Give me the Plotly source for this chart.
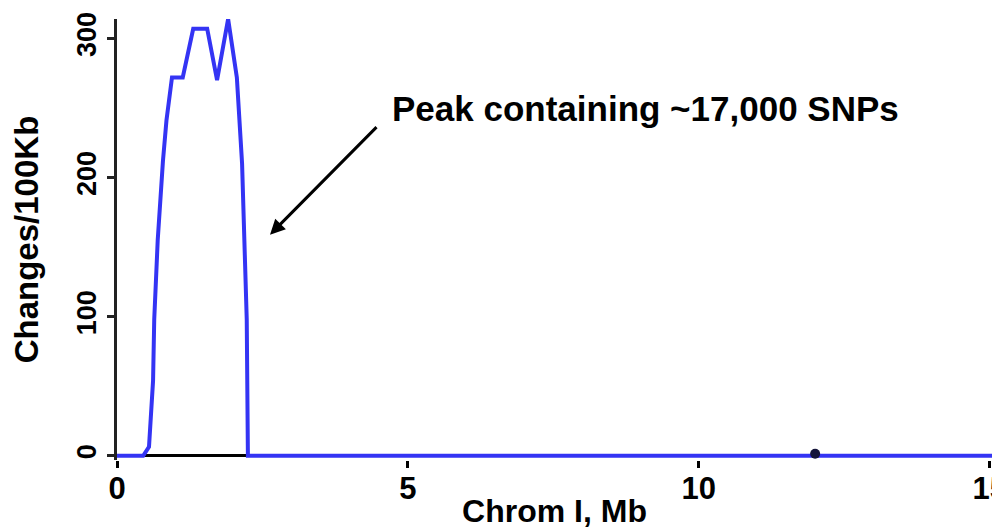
import plotly.graph_objects as go

# Chromosome position (Mb) and SNP change density (changes per 100 Kb)
pos_mb = [0.0, 0.45, 0.55, 0.62, 0.64, 0.70, 0.79, 0.85, 0.945, 1.13, 1.31, 1.55,
          1.72, 1.91, 2.06, 2.11, 2.15, 2.23, 2.25, 15.04]
changes = [0, 0, 6.5, 54, 98, 155, 212, 241, 272, 272, 307, 307,
           270, 314, 272, 243, 210, 98, 0, 0]

# small isolated blip
blip_x = [12.0]
blip_y = [1.5]

x_ticks = [0, 5, 10, 15]
x_tick_text = ["0", "5", "10", "15"]
y_ticks = [0, 100, 200, 300]
y_tick_text = ["0", "100", "200", "300"]

FONT = "Liberation Sans, Arial, sans-serif"

fig = go.Figure()
fig.add_trace(go.Scatter(
    x=pos_mb, y=changes, mode="lines",
    line=dict(color="#3434f4", width=4),
    showlegend=False, hoverinfo="skip",
))
fig.add_trace(go.Scatter(
    x=blip_x, y=blip_y, mode="markers",
    marker=dict(color="#15153a", size=10, symbol="circle"),
    showlegend=False, hoverinfo="skip",
))

fig.add_annotation(
    x=2.63, y=159, xref="x", yref="y",
    ax=108, ay=-109, axref="pixel", ayref="pixel",
    text="", showarrow=True, arrowhead=2, arrowsize=1.0,
    arrowwidth=3, arrowcolor="black",
)
fig.add_annotation(
    x=9.09, y=250, xref="x", yref="y", showarrow=False,
    text="Peak containing ~17,000 SNPs",
    font=dict(family=FONT, size=35, color="black", weight="bold"),
    xanchor="center", yanchor="middle",
)

fig.update_layout(
    width=992, height=529,
    margin=dict(l=117, r=0, t=19, b=69, pad=0),
    paper_bgcolor="white", plot_bgcolor="white",
    xaxis=dict(
        range=[0, 15.04], tickvals=x_ticks, ticktext=x_tick_text,
        showgrid=False, zeroline=False, showline=False,
        ticks="outside", ticklen=7, ticklabelstandoff=-6,
        tickwidth=3, tickcolor="black", ticklabeloverflow="allow",
        tickfont=dict(family=FONT, size=31, color="black", weight="bold"),
        title=dict(text="Chrom I, Mb", standoff=2,
                   font=dict(family=FONT, size=32, color="black", weight="bold")),
        automargin=False,
    ),
    yaxis=dict(
        range=[-3, 314], tickvals=y_ticks, ticktext=y_tick_text,
        showgrid=False, zeroline=True, zerolinecolor="black", zerolinewidth=3,
        showline=True,
        linecolor="#222222", linewidth=3, ticks="outside", ticklen=7,
        tickwidth=3, tickcolor="#222222", tickangle=-90,
        tickfont=dict(family=FONT, size=27, color="black", weight="bold"),
        title=dict(text="Changes/100Kb", standoff=24,
                   font=dict(family=FONT, size=33, color="black", weight="bold")),
        automargin=False,
    ),
)

fig.write_html("out.html")
